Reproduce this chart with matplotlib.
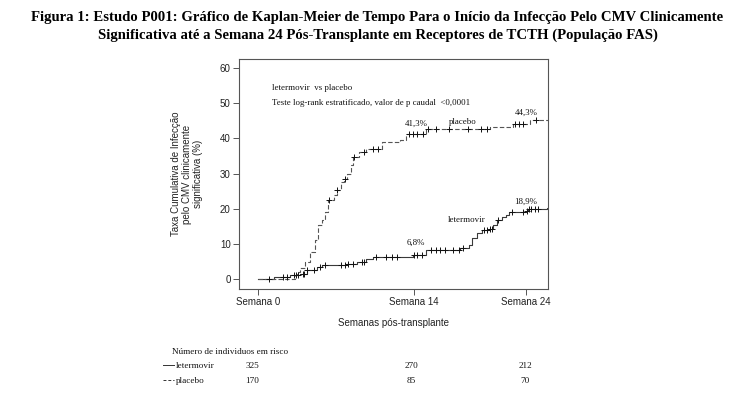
import numpy as np
import matplotlib.pyplot as plt
from matplotlib.lines import Line2D

# Kaplan-Meier steps, time in weeks post-transplant, cumulative rate in %
let_t = [0, 1.4, 2.9, 3.8, 4.4, 5.3, 5.7, 7.9, 8.9, 9.7, 10.3, 12.2, 13.9,
         15.1, 18.1, 18.9, 19.2, 19.6, 20.1, 20.7, 21.1, 21.4, 21.9, 22.2,
         22.5, 24.0, 24.2, 25.9, 26.0]
let_y = [0, 0.5, 1.1, 1.6, 2.6, 3.5, 4.0, 4.4, 5.0, 5.6, 6.3, 6.4, 6.8,
         8.4, 8.8, 9.7, 11.6, 13.0, 13.9, 14.4, 15.3, 16.8, 17.7, 18.2,
         19.1, 19.5, 20.0, 20.3, 20.3]
pla_t = [0, 3.3, 3.5, 3.8, 4.2, 4.7, 5.1, 5.4, 5.7, 6.0, 6.3, 6.8, 7.1, 7.4,
         7.7, 8.0, 8.3, 8.5, 9.1, 9.7, 11.1, 12.7, 13.3, 15.1, 20.8, 22.9,
         24.4, 26.0]
pla_y = [0, 1.1, 2.1, 3.2, 4.9, 7.8, 11.1, 15.3, 16.8, 19.1, 22.4, 23.9,
         25.3, 27.6, 28.6, 30.0, 32.4, 34.7, 36.2, 37.1, 39.0, 39.5, 41.3,
         42.6, 43.3, 44.2, 45.2, 45.2]

# censored observations (weeks)
let_cens = [1.0, 2.2, 2.6, 3.2, 3.6, 4.0, 4.1, 4.4, 5.0, 5.6, 6.0, 7.4, 7.8,
            8.1, 8.5, 9.3, 9.5, 10.6, 11.5, 12.0, 12.5, 14.0, 14.3, 14.7,
            15.5, 16.0, 16.3, 16.8, 17.5, 18.0, 18.4, 20.3, 20.5, 20.8, 21.0,
            21.5, 22.8, 23.8, 24.1, 24.3, 24.5, 24.8, 25.1]
pla_cens = [3.4, 6.4, 7.1, 7.8, 8.6, 9.5, 10.3, 10.8, 13.5, 13.9, 14.3, 14.8,
            15.2, 16.0, 17.1, 18.8, 20.0, 20.5, 23.0, 23.4, 23.8, 24.9]

xticks = [0, 14, 24]
xticklabels = ['Semana 0', 'Semana 14', 'Semana 24']
yticks = [0, 10, 20, 30, 40, 50, 60]

risk_groups = ['letermovir', 'placebo']
risk_counts = [[325, 270, 212], [170, 85, 70]]

W, H = 755, 396
fig = plt.figure(figsize=(W / 100, H / 100), dpi=100)
fig.patch.set_facecolor('white')

def fx(px):
    return px / W

def fy(py):
    return 1 - py / H

ax = fig.add_axes([fx(239), fy(289), fx(548) - fx(239), fy(59) - fy(289)])

def step_at(ts, ys, t):
    i = np.searchsorted(ts, t, side='right') - 1
    return ys[max(i, 0)]

ax.step(let_t, let_y, where='post', color='#3a3a3a', lw=0.8)
ax.step(pla_t, pla_y, where='post', color='#555555', lw=0.8,
        linestyle=(0, (4, 2)))
ax.plot(let_cens, [step_at(let_t, let_y, c) for c in let_cens], ls='none',
        marker='+', ms=5, mew=0.7, color='#111111')
ax.plot(pla_cens, [step_at(pla_t, pla_y, c) for c in pla_cens], ls='none',
        marker='+', ms=5, mew=0.7, color='#111111')

ax.set_xlim(-1.7, 26.0)
ax.set_ylim(-2.8, 62.6)
ax.set_xticks(xticks)
ax.set_xticklabels(xticklabels)
ax.set_yticks(yticks)
for s in ax.spines.values():
    s.set_color('#555555')
    s.set_linewidth(0.8)
ax.tick_params(direction='out', length=4, width=0.7, color='#555555',
               labelsize=7, labelcolor='#222222', pad=2)
for lab in ax.get_xticklabels() + ax.get_yticklabels():
    lab.set_family('Liberation Sans')

ax.set_xlabel('Semanas pós-transplante', family='Liberation Sans', fontsize=7,
              color='#222222', labelpad=8)
ax.set_ylabel('Taxa Cumulativa de Infecção\npelo CMV clinicamente\nsignificativa (%)',
              family='Liberation Sans', fontsize=7, color='#222222',
              labelpad=12, linespacing=1.15)

serif = dict(family='Liberation Serif', fontsize=6.4, color='#111111', va='center')
ax.text(1.26, 54.3, 'letermovir  vs placebo', **serif)
ax.text(1.26, 50.0, 'Teste log-rank estratificado, valor de p caudal  <0,0001', **serif)
ax.text(13.2, 44.3, '41,3%', **serif)
ax.text(17.1, 44.6, 'placebo', **serif)
ax.text(23.0, 47.4, '44,3%', **serif)
ax.text(23.0, 21.9, '18,9%', **serif)
ax.text(17.0, 16.8, 'letermovir', **serif)
ax.text(13.3, 10.2, '6,8%', **serif)

fig.text(0.5, fy(17), 'Figura 1: Estudo P001: Gráfico de Kaplan-Meier de Tempo Para o Início da Infecção Pelo CMV Clinicamente',
         ha='center', va='center', family='Liberation Serif', weight='bold', fontsize=10.6)
fig.text(0.5, fy(35), 'Significativa até a Semana 24 Pós-Transplante em Receptores de TCTH (População FAS)',
         ha='center', va='center', family='Liberation Serif', weight='bold', fontsize=10.6)

# number at risk table
tbl = dict(family='Liberation Serif', fontsize=6.6, color='#111111', va='center')
fig.text(fx(172), fy(352), 'Número de individuos em risco', **tbl)
col_x = [252, 411, 525]
row_y = [366, 381]
styles = ['-', (0, (3, 2))]
for name, counts, py, st in zip(risk_groups, risk_counts, row_y, styles):
    fig.add_artist(Line2D([fx(163), fx(174)], [fy(py - 1), fy(py - 1)],
                          color='#333333', lw=0.7, linestyle=st))
    fig.text(fx(176), fy(py), name, **tbl)
    for cx, n in zip(col_x, counts):
        fig.text(fx(cx), fy(py), str(n), ha='center', **tbl)

fig.savefig('out.png', dpi=100)
